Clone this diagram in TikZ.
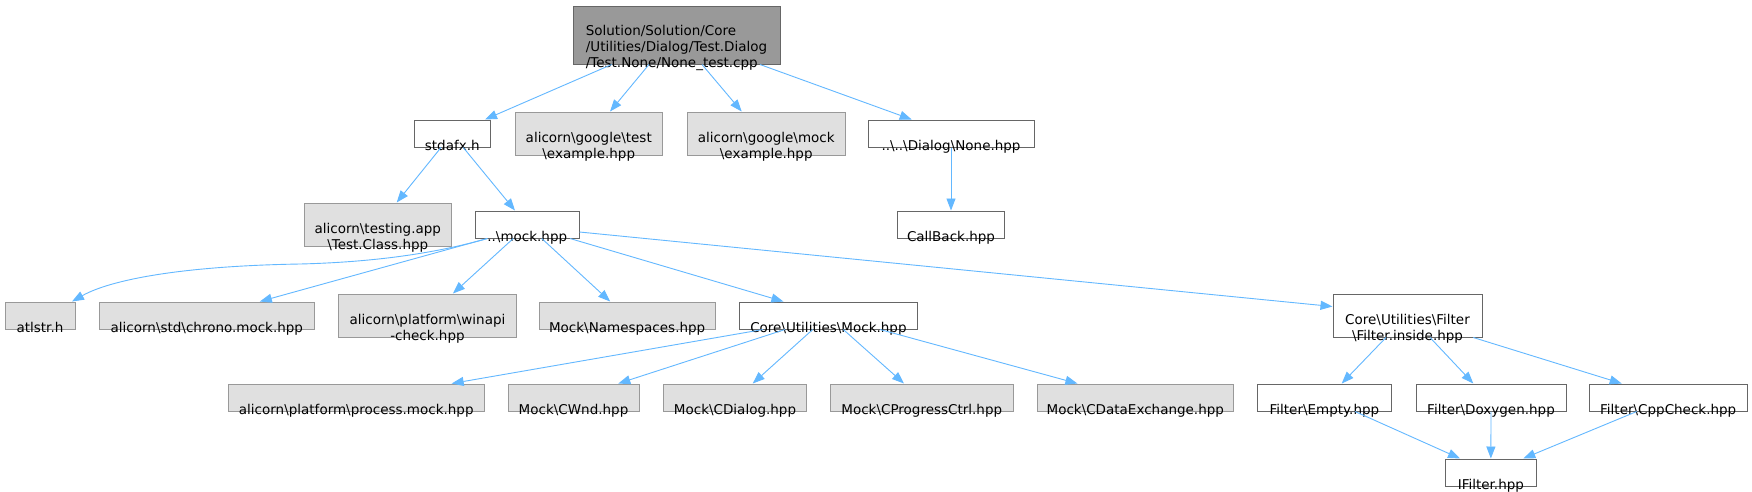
\documentclass[tikz,border=0pt]{standalone}
\usepackage{fontspec}
\setmainfont{DejaVu Sans}
\usepackage{xcolor}
\usetikzlibrary{arrows.meta}

\definecolor{edgeblue}{HTML}{63B8FF}
\definecolor{boxline}{HTML}{666666}
\definecolor{extfill}{HTML}{E0E0E0}
\definecolor{extline}{HTML}{999999}
\definecolor{rootfill}{HTML}{999999}

\begin{document}
\begin{tikzpicture}[
    x=1pt, y=-1pt,
    >={Triangle[length=12pt,width=9pt]},
    every node/.style={inner sep=0pt},
    file/.style={draw=boxline,fill=white,line width=1pt,minimum height=27pt},
    ext/.style={file,draw=extline,fill=extfill},
    two/.style={minimum height=43pt},
    txt/.style={anchor=south,align=center,font=\fontsize{13.5}{16}\selectfont,
                execute at end node=\strut},
    dep/.style={->,edgeblue,line width=0.9pt},
  ]
  \def\bs{\textbackslash}
  \path[use as bounding box,fill=white] (0,0) rectangle (1752,491);

  % -- the test file itself --
  \node[file,fill=rootfill,minimum width=207pt,minimum height=58pt] (root) at (676.5,35) {};

  % -- first level of includes --
  \node[file,minimum width=75.5pt]      (stdafx)    at (452.25,133.5) {};
  \node[ext,two,minimum width=147.5pt]  (gtest)     at (588.75,133.5) {};
  \node[ext,two,minimum width=158.5pt]  (gmock)     at (766.25,133.5) {};
  \node[file,minimum width=166pt]       (none)      at (951,133.5) {};

  \node[ext,two,minimum width=146.5pt]  (testclass) at (377.75,224.5) {};
  \node[file,minimum width=103.5pt]     (mock)      at (527.25,224.5) {};
  \node[file,minimum width=107pt]       (callback)  at (951,224.5) {};

  % -- what the mock header pulls in --
  \node[ext,minimum width=70pt]         (atlstr)       at (40,315.5) {};
  \node[ext,minimum width=215.7pt]      (chrono)       at (206.85,315.5) {};
  \node[ext,two,minimum width=178pt]    (winapi)       at (427.45,315.5) {};
  \node[ext,minimum width=175.7pt]      (namespaces)   at (627.15,315.5) {};
  \node[file,minimum width=178.2pt]     (coremock)     at (828.4,315.5) {};
  \node[file,two,minimum width=149pt]   (filterinside) at (1407.5,315.5) {};

  \node[ext,minimum width=256.5pt]      (process)       at (356.25,397.5) {};
  \node[ext,minimum width=131pt]        (cwnd)          at (573.5,397.5) {};
  \node[ext,minimum width=143pt]        (cdialog)       at (735,397.5) {};
  \node[ext,minimum width=182.5pt]      (cprogress)     at (921.75,397.5) {};
  \node[ext,minimum width=196.5pt]      (cdataexchange) at (1135.25,397.5) {};
  \node[file,minimum width=134.2pt]     (empty)         at (1324.4,397.5) {};
  \node[file,minimum width=150pt]       (doxygen)       at (1491,397.5) {};
  \node[file,minimum width=157.7pt]     (cppcheck)      at (1668.2,397.5) {};

  \node[file,minimum width=90.3pt]      (ifilter)       at (1490.85,472.5) {};

  % -- file names, sitting low in their boxes --
  \node[txt,align=left] (root-t) at ([yshift=-7.8pt]root.south)
       {Solution/Solution/Core\\/Utilities/Dialog/Test.Dialog\\/Test.None/None\_test.cpp};
  \foreach \f/\lab in {
      stdafx/stdafx.h,
      gtest/{alicorn\bs google\bs test\\\bs example.hpp},
      gmock/{alicorn\bs google\bs mock\\\bs example.hpp},
      none/{..\bs..\bs Dialog\bs None.hpp},
      testclass/{alicorn\bs testing.app\\\bs Test.Class.hpp},
      mock/{..\bs mock.hpp},
      callback/CallBack.hpp,
      atlstr/atlstr.h,
      chrono/{alicorn\bs std\bs chrono.mock.hpp},
      winapi/{alicorn\bs platform\bs winapi\\-check.hpp},
      namespaces/{Mock\bs Namespaces.hpp},
      coremock/{Core\bs Utilities\bs Mock.hpp},
      filterinside/{Core\bs Utilities\bs Filter\\\bs Filter.inside.hpp},
      process/{alicorn\bs platform\bs process.mock.hpp},
      cwnd/{Mock\bs CWnd.hpp},
      cdialog/{Mock\bs CDialog.hpp},
      cprogress/{Mock\bs CProgressCtrl.hpp},
      cdataexchange/{Mock\bs CDataExchange.hpp},
      empty/{Filter\bs Empty.hpp},
      doxygen/{Filter\bs Doxygen.hpp},
      cppcheck/{Filter\bs CppCheck.hpp},
      ifilter/IFilter.hpp}
    \node[txt] (\f-t) at ([yshift=-7.8pt]\f.south) {\lab};

  % -- include edges --
  \foreach \a/\da/\b/\db in {
      root/-64.8/stdafx/32.75, root/-27.5/gtest/21.25,
      root/25.5/gmock/-24.55, root/83.5/none/-39.3,
      stdafx/-11.25/testclass/18.95, stdafx/11/mock/-12.25,
      none/0/callback/0,
      mock/-40/chrono/53, mock/-14/winapi/25.5,
      mock/14.5/namespaces/-17, mock/42.75/coremock/-45,
      coremock/-65.4/process/95.45, coremock/-43.4/cwnd/44.8,
      coremock/-15.7/cdialog/17.7, coremock/14.9/cprogress/-17.75,
      coremock/51.6/cdataexchange/-57.85,
      filterinside/-21.5/empty/17.3, filterinside/22.5/doxygen/-17.7,
      filterinside/65.8/cppcheck/-46.5,
      empty/30.6/ifilter/-30.85, doxygen/0/ifilter/0,
      cppcheck/-31.5/ifilter/32.45}
    \draw[dep] ([xshift=\da pt]\a.south) -- ([xshift=\db pt]\b.north);

  \draw[dep] ([xshift=-39.75pt]mock.south) .. controls (440,252) and (380,262) .. (300,264)
             .. controls (180,266) and (110,280) .. ([xshift=32pt]atlstr.north);
  \draw[dep] ([yshift=-7.5pt]mock.east) -- ([yshift=9pt]filterinside.west);
\end{tikzpicture}
\end{document}
